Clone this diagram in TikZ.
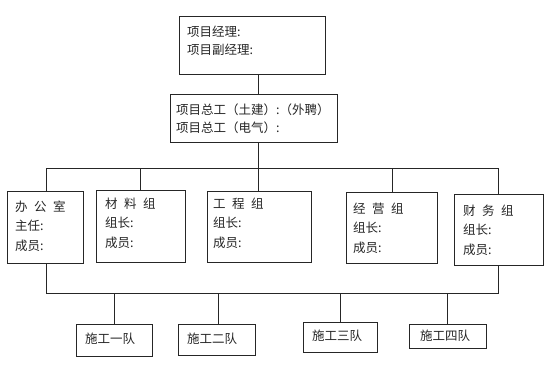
\documentclass[tikz,border=0pt]{standalone}
\usepackage{fontspec}
\newfontfamily\cjk{Noto Sans CJK SC}
\usetikzlibrary{fit}
\begin{document}
\begin{tikzpicture}[x=1pt,y=-1pt,
  box/.style={draw=black!85, line width=0.9pt, inner sep=0pt},
  wire/.style={draw=black!85, line width=0.9pt},
  lab/.style={font=\cjk\fontsize{12.5}{18}\selectfont, align=left, inner sep=0pt, anchor=west, text=black!85},
  labr/.style={lab, font=\cjk\fontsize{12.5}{19.5}\selectfont}]
\useasboundingbox[fill=white] (0,0) rectangle (553,366);

% boxes
\node[box, fit={(179,16) (325,74)}] (t) {};
\node[box, fit={(170,94) (337,142)}] (s) {};
\node[box, fit={(7,191) (83,263)}] (b1) {};
\node[box, fit={(96,190) (185,262)}] (b2) {};
\node[box, fit={(207,191) (311,262)}] (b3) {};
\node[box, fit={(346,192) (437,263)}] (b4) {};
\node[box, fit={(454,194) (543,265)}] (b5) {};
\node[box, fit={(76,324) (152,356)}] (c1) {};
\node[box, fit={(178,324) (255,355)}] (c2) {};
\node[box, fit={(303,322) (377,352)}] (c3) {};
\node[box, fit={(409,324) (486,348)}] (c4) {};

% texts
\node[lab] (tl) at (187,41) {项目经理:\\项目副经理:};
\node[lab] (sl) at (176,119) {项目总工（土建）:（外聘）\\项目总工（电气）:};
\node[labr] (b1l) at (15,226) {办\hspace{6.5pt}公\hspace{6.5pt}室\\主任:\\成员:};
\node[labr] (b2l) at (105,223) {材\hspace{6.5pt}料\hspace{6.5pt}组\\组长:\\成员:};
\node[labr] (b3l) at (213,223) {工\hspace{6.5pt}程\hspace{6.5pt}组\\组长:\\成员:};
\node[labr] (b4l) at (353,228) {经\hspace{6.5pt}营\hspace{6.5pt}组\\组长:\\成员:};
\node[labr] (b5l) at (463,230) {财\hspace{6.5pt}务\hspace{6.5pt}组\\组长:\\成员:};
\node[lab] (c1l) at (85,339) {施工一队};
\node[lab] (c2l) at (187,339) {施工二队};
\node[lab] (c3l) at (312,336) {施工三队};
\node[lab] (c4l) at (420,336) {施工四队};

% bus coordinates
\coordinate (m) at (258,168);
\coordinate (uL) at (46,168);
\coordinate (uR) at (498,168);
\coordinate (u2) at (140,168);
\coordinate (u4) at (392,168);
\coordinate (dL) at (46,293);
\coordinate (dR) at (498,293);
\coordinate (d1) at (114,293);
\coordinate (d2) at (218,293);
\coordinate (d3) at (340,293);
\coordinate (d4) at (447,293);

% connectors
\draw[wire] (t.south -| m) -- (s.north -| m);
\draw[wire] (s.south -| m) -- (m);
\draw[wire] (uL) -- (uR);
\draw[wire] (uL) -- (uL |- b1.north);
\draw[wire] (u2) -- (u2 |- b2.north);
\draw[wire] (m) -- (m |- b3.north);
\draw[wire] (u4) -- (u4 |- b4.north);
\draw[wire] (uR) -- (uR |- b5.north);
\draw[wire] (dL |- b1.south) -- (dL) -- (dR) -- (dR |- b5.south);
\draw[wire] (d1) -- (d1 |- c1.north);
\draw[wire] (d2) -- (d2 |- c2.north);
\draw[wire] (d3) -- (d3 |- c3.north);
\draw[wire] (d4) -- (d4 |- c4.north);
\end{tikzpicture}
\end{document}
